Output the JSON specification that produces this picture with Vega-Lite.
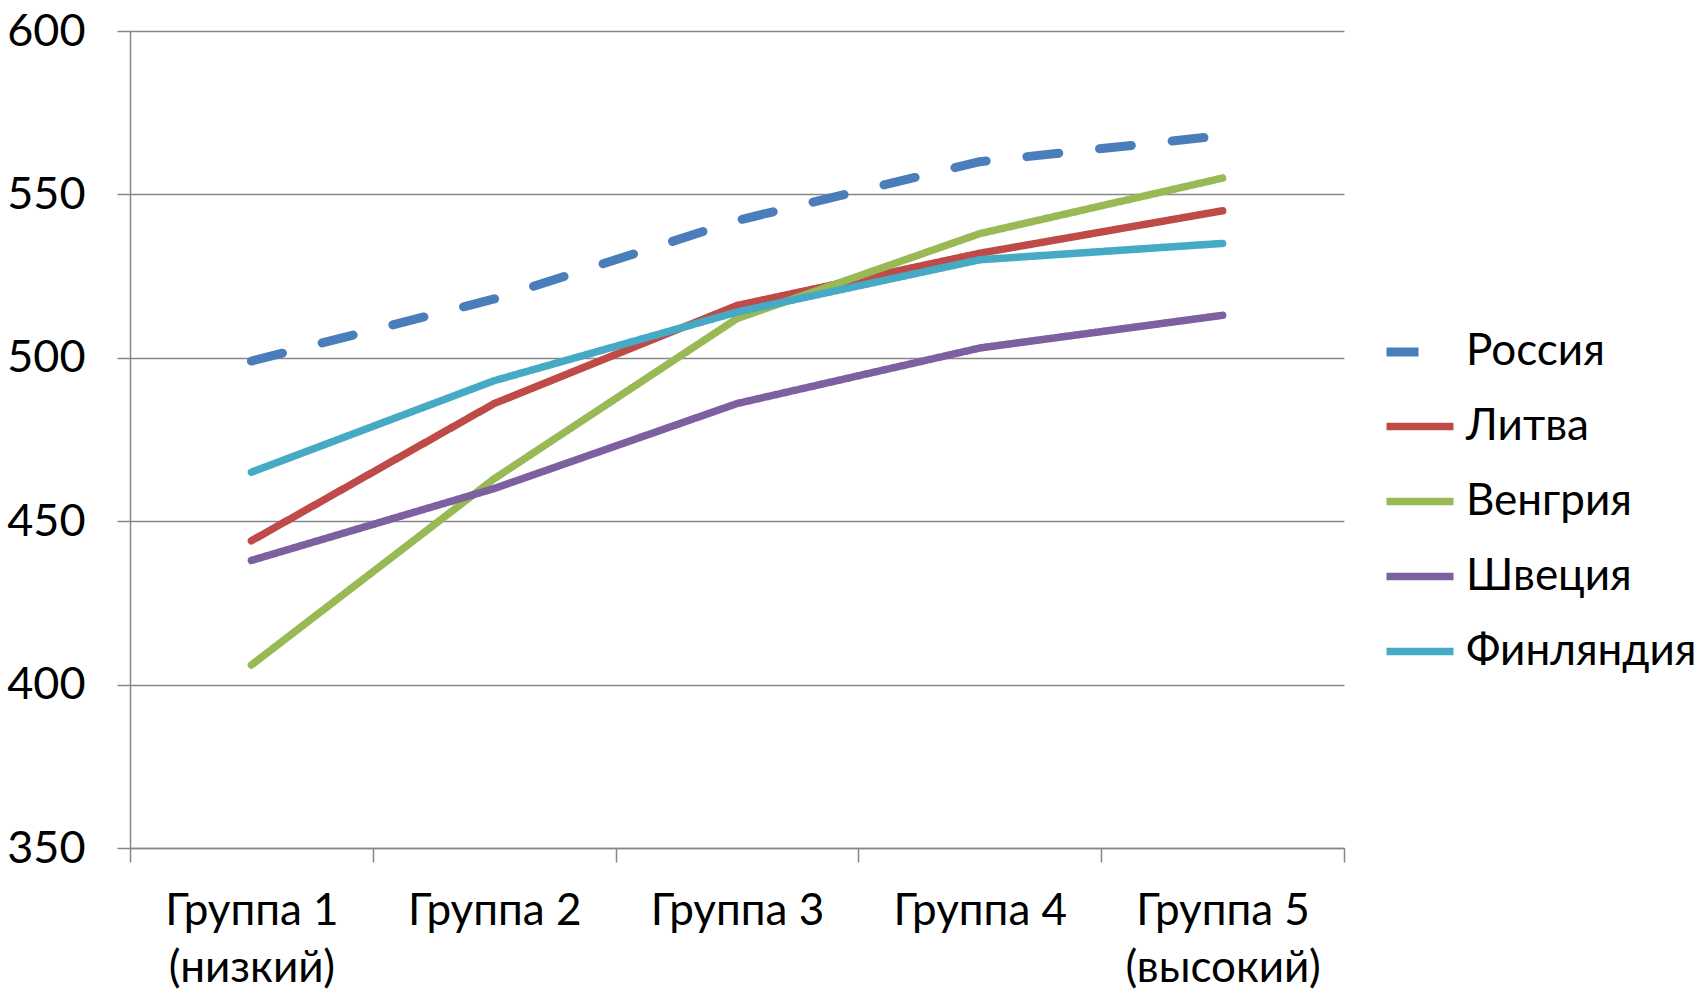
{
  "$schema": "https://vega.github.io/schema/vega-lite/v6.json",
  "autosize": {"type": "none"},
  "padding": {"left": 130, "top": 31, "right": 356, "bottom": 145},
  "width": 1214,
  "height": 817,
  "background": "white",
  "config": {
    "font": "Lato",
    "view": {"stroke": null}
  },
  "data": {
    "values": [
      {"group": "Группа 1|(низкий)", "country": "Россия", "score": 499},
      {"group": "Группа 2", "country": "Россия", "score": 518},
      {"group": "Группа 3", "country": "Россия", "score": 542},
      {"group": "Группа 4", "country": "Россия", "score": 560},
      {"group": "Группа 5|(высокий)", "country": "Россия", "score": 568},
      {"group": "Группа 1|(низкий)", "country": "Литва", "score": 444},
      {"group": "Группа 2", "country": "Литва", "score": 486},
      {"group": "Группа 3", "country": "Литва", "score": 516},
      {"group": "Группа 4", "country": "Литва", "score": 532},
      {"group": "Группа 5|(высокий)", "country": "Литва", "score": 545},
      {"group": "Группа 1|(низкий)", "country": "Венгрия", "score": 406},
      {"group": "Группа 2", "country": "Венгрия", "score": 463},
      {"group": "Группа 3", "country": "Венгрия", "score": 512},
      {"group": "Группа 4", "country": "Венгрия", "score": 538},
      {"group": "Группа 5|(высокий)", "country": "Венгрия", "score": 555},
      {"group": "Группа 1|(низкий)", "country": "Швеция", "score": 438},
      {"group": "Группа 2", "country": "Швеция", "score": 460},
      {"group": "Группа 3", "country": "Швеция", "score": 486},
      {"group": "Группа 4", "country": "Швеция", "score": 503},
      {"group": "Группа 5|(высокий)", "country": "Швеция", "score": 513},
      {"group": "Группа 1|(низкий)", "country": "Финляндия", "score": 465},
      {"group": "Группа 2", "country": "Финляндия", "score": 493},
      {"group": "Группа 3", "country": "Финляндия", "score": 514},
      {"group": "Группа 4", "country": "Финляндия", "score": 530},
      {"group": "Группа 5|(высокий)", "country": "Финляндия", "score": 535}
    ]
  },
  "mark": {"type": "line", "strokeCap": "round", "strokeJoin": "round"},
  "encoding": {
    "x": {
      "field": "group",
      "type": "nominal",
      "sort": null,
      "scale": {"paddingInner": 0, "paddingOuter": 0},
      "axis": {
        "title": null,
        "labelAngle": 0,
        "labelExpr": "split(datum.label, '|')",
        "labelFontSize": 44,
        "labelColor": "#000000",
        "labelLineHeight": 57,
        "labelBaseline": "top",
        "labelPadding": 27,
        "labelLimit": 0,
        "tickBand": "extent",
        "tickSize": 14,
        "tickColor": "#878787",
        "tickWidth": 1.5,
        "domainColor": "#878787",
        "domainWidth": 1.5,
        "grid": false
      }
    },
    "y": {
      "field": "score",
      "type": "quantitative",
      "scale": {"domain": [350, 600], "nice": false, "zero": false},
      "axis": {
        "title": null,
        "values": [350, 400, 450, 500, 550, 600],
        "labelFontSize": 45,
        "labelColor": "#000000",
        "labelPadding": 32,
        "tickSize": 13,
        "tickColor": "#878787",
        "tickWidth": 1.5,
        "domainColor": "#878787",
        "domainWidth": 1.5,
        "grid": true,
        "gridColor": "#878787",
        "gridWidth": 1.5
      }
    },
    "color": {
      "field": "country",
      "type": "nominal",
      "sort": ["Россия", "Литва", "Венгрия", "Швеция", "Финляндия"],
      "scale": {
        "domain": ["Россия", "Литва", "Венгрия", "Швеция", "Финляндия"],
        "range": ["#4A7EBB", "#BE4B48", "#98B954", "#7D60A0", "#46AAC5"]
      },
      "legend": {
        "title": null,
        "orient": "none",
        "legendX": 1252,
        "legendY": 283,
        "symbolType": "stroke",
        "symbolSize": 4489,
        "labelFontSize": 44,
        "labelColor": "#000000",
        "labelOffset": 8,
        "labelLimit": 0,
        "rowPadding": 15
      }
    },
    "strokeDash": {
      "field": "country",
      "type": "nominal",
      "sort": ["Россия", "Литва", "Венгрия", "Швеция", "Финляндия"],
      "scale": {
        "domain": ["Россия", "Литва", "Венгрия", "Швеция", "Финляндия"],
        "range": [[32, 41], [1, 0], [1, 0], [1, 0], [1, 0]]
      },
      "legend": {
        "title": null,
        "orient": "none",
        "legendX": 1252,
        "legendY": 283,
        "symbolType": "stroke",
        "symbolSize": 4489,
        "labelFontSize": 44,
        "labelColor": "#000000",
        "labelOffset": 8,
        "labelLimit": 0,
        "rowPadding": 15
      }
    },
    "strokeWidth": {
      "field": "country",
      "type": "nominal",
      "sort": ["Россия", "Литва", "Венгрия", "Швеция", "Финляндия"],
      "scale": {
        "type": "ordinal",
        "domain": ["Россия", "Литва", "Венгрия", "Швеция", "Финляндия"],
        "range": [9, 7.5, 7.5, 7.5, 7.5]
      },
      "legend": {
        "title": null,
        "orient": "none",
        "legendX": 1252,
        "legendY": 283,
        "symbolType": "stroke",
        "symbolSize": 4489,
        "labelFontSize": 44,
        "labelColor": "#000000",
        "labelOffset": 8,
        "labelLimit": 0,
        "rowPadding": 15
      }
    }
  }
}
